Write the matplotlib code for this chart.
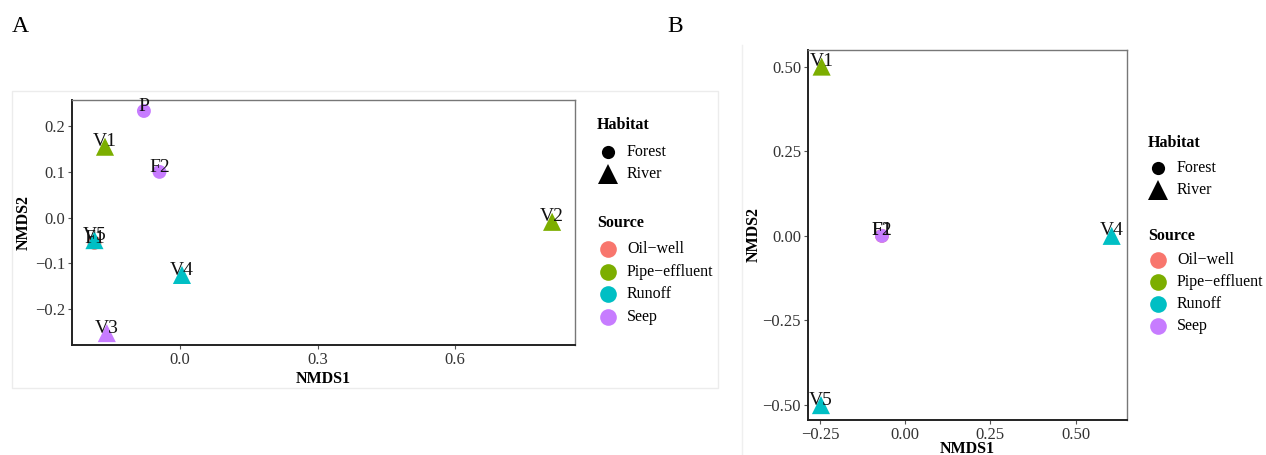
import matplotlib
matplotlib.use("Agg")
import matplotlib.pyplot as plt
from matplotlib.lines import Line2D
from matplotlib.patches import Rectangle

# ---------------- data ----------------
A_labels = ['P', 'V1', 'F2', 'F1', 'V5', 'V4', 'V3', 'V2']
A_x = [-0.079, -0.164, -0.045, -0.187, -0.187, 0.004, -0.160, 0.812]
A_y = [0.233, 0.155, 0.100, -0.055, -0.049, -0.125, -0.252, -0.009]
A_habitat = ['Forest', 'River', 'Forest', 'Forest', 'River', 'River', 'River', 'River']
A_source = ['Seep', 'Pipe-effluent', 'Seep', 'Oil-well', 'Runoff', 'Runoff', 'Seep', 'Pipe-effluent']

B_labels = ['V1', 'F1', 'F2', 'V4', 'V5']
B_x = [-0.245, -0.068, -0.068, 0.606, -0.247]
B_y = [0.500, 0.000, 0.000, 0.000, -0.500]
B_habitat = ['River', 'Forest', 'Forest', 'River', 'River']
B_source = ['Pipe-effluent', 'Oil-well', 'Seep', 'Runoff', 'Runoff']

habitats = ['Forest', 'River']
sources = ['Oil-well', 'Pipe-effluent', 'Runoff', 'Seep']
source_labels = ['Oil\u2212well', 'Pipe\u2212effluent', 'Runoff', 'Seep']

A_xticks = [0.0, 0.3, 0.6]
A_yticks = [-0.2, -0.1, 0.0, 0.1, 0.2]
B_yticks = [-0.50, -0.25, 0.00, 0.25, 0.50]
B_xticks = [-0.25, 0.00, 0.25, 0.50]

# ---------------- style ----------------
source_colors = {'Oil-well': '#F8766D', 'Pipe-effluent': '#7CAE00',
                 'Runoff': '#00BFC4', 'Seep': '#C77CFF'}
habitat_markers = {'Forest': 'o', 'River': '^'}
habitat_sizes = {'Forest': 100, 'River': 170}
SERIF = ['Liberation Serif', 'DejaVu Serif']
plt.rcParams['font.family'] = SERIF

W, H = 1266, 455
fig = plt.figure(figsize=(W / 100, H / 100), dpi=100)


def fx(px):
    return px / W


def fy(py):
    return 1 - py / H


def px_axes(left, top, right, bottom):
    return fig.add_axes([fx(left), fy(bottom), (right - left) / W, (bottom - top) / H])


# faint scan frames seen in the original
fig.patches.append(Rectangle((fx(12), fy(388)), 706 / W, 297 / H,
                             transform=fig.transFigure, fill=False,
                             edgecolor='#ececec', linewidth=1.0))
fig.add_artist(Line2D([fx(742), fx(742)], [fy(45), fy(455)], transform=fig.transFigure,
                      color='#efefef', linewidth=1.0))


def minus_fmt(decimals):
    def f(v):
        s = f"{v:.{decimals}f}"
        if s.startswith('-'):
            s = '\u2212' + s[1:]
        return s
    return f


def draw_panel(ax, xs, ys, labels, habs, srcs, xlim, ylim, xticks, yticks, fmt):
    for x, y, lab, h, s in zip(xs, ys, labels, habs, srcs):
        ax.scatter([x], [y], marker=habitat_markers[h], s=habitat_sizes[h],
                   color=source_colors[s], edgecolors='none', zorder=3, clip_on=False)
        ax.annotate(lab, (x, y), xytext=(0, 3.5), textcoords='offset points',
                    ha='center', va='center', fontsize=14, color='#111111', zorder=4)
    ax.set_xlim(*xlim)
    ax.set_ylim(*ylim)
    ax.set_xticks(xticks)
    ax.set_yticks(yticks)
    ax.set_xticklabels([fmt(v) for v in xticks])
    ax.set_yticklabels([fmt(v) for v in yticks])
    ax.tick_params(direction='out', length=3, width=0.8, color='#555555',
                   labelsize=12, labelcolor='#333333', pad=2)
    for side in ['left', 'bottom']:
        ax.spines[side].set_color('#222222')
        ax.spines[side].set_linewidth(1.4)
    for side in ['top', 'right']:
        ax.spines[side].set_color('#777777')
        ax.spines[side].set_linewidth(1.0)
    ax.set_xlabel('NMDS1', fontsize=11.5, fontweight='bold', labelpad=2)
    ax.set_ylabel('NMDS2', fontsize=11.5, fontweight='bold', labelpad=2)


def draw_legend(title_x, marker_x, text_x, hab_title_y, hab_ys, src_title_y, src_ys):
    fig.text(fx(title_x), fy(hab_title_y), 'Habitat', fontsize=11.5, fontweight='bold',
             ha='left', va='center')
    for h, yy in zip(habitats, hab_ys):
        fig.add_artist(Line2D([fx(marker_x)], [fy(yy)], transform=fig.transFigure,
                              linestyle='', marker=habitat_markers[h], color='black',
                              markersize=9.5 if h == 'Forest' else 14, markeredgewidth=0))
        fig.text(fx(text_x), fy(yy), h, fontsize=11.5, ha='left', va='center')
    fig.text(fx(title_x), fy(src_title_y), 'Source', fontsize=11.5, fontweight='bold',
             ha='left', va='center')
    for s, lab, yy in zip(sources, source_labels, src_ys):
        fig.add_artist(Line2D([fx(marker_x)], [fy(yy)], transform=fig.transFigure,
                              linestyle='', marker='o', color=source_colors[s],
                              markersize=12, markeredgewidth=0))
        fig.text(fx(text_x), fy(yy), lab, fontsize=11.5, ha='left', va='center')


# ---------------- panel A ----------------
axA = px_axes(72, 100, 575, 345)
draw_panel(axA, A_x, A_y, A_labels, A_habitat, A_source,
           (-0.236, 0.862), (-0.278, 0.257), A_xticks, A_yticks, minus_fmt(1))
draw_legend(597, 608, 627, 125, [152, 174], 223, [249, 271.5, 294, 317])

# ---------------- panel B ----------------
axB = px_axes(808, 50, 1127, 420)
draw_panel(axB, B_x, B_y, B_labels, B_habitat, B_source,
           (-0.285, 0.651), (-0.544, 0.549), B_xticks, B_yticks, minus_fmt(2))
axB.xaxis.labelpad = -1.5
axB.yaxis.labelpad = 0.5
draw_legend(1148, 1158, 1177, 143, [168, 190], 236, [260, 282, 304, 325.5])

fig.text(fx(12), fy(27), 'A', fontsize=17, va='center', ha='left')
fig.text(fx(667), fy(27), 'B', fontsize=17, va='center', ha='left')

fig.savefig('out.png', dpi=100)
